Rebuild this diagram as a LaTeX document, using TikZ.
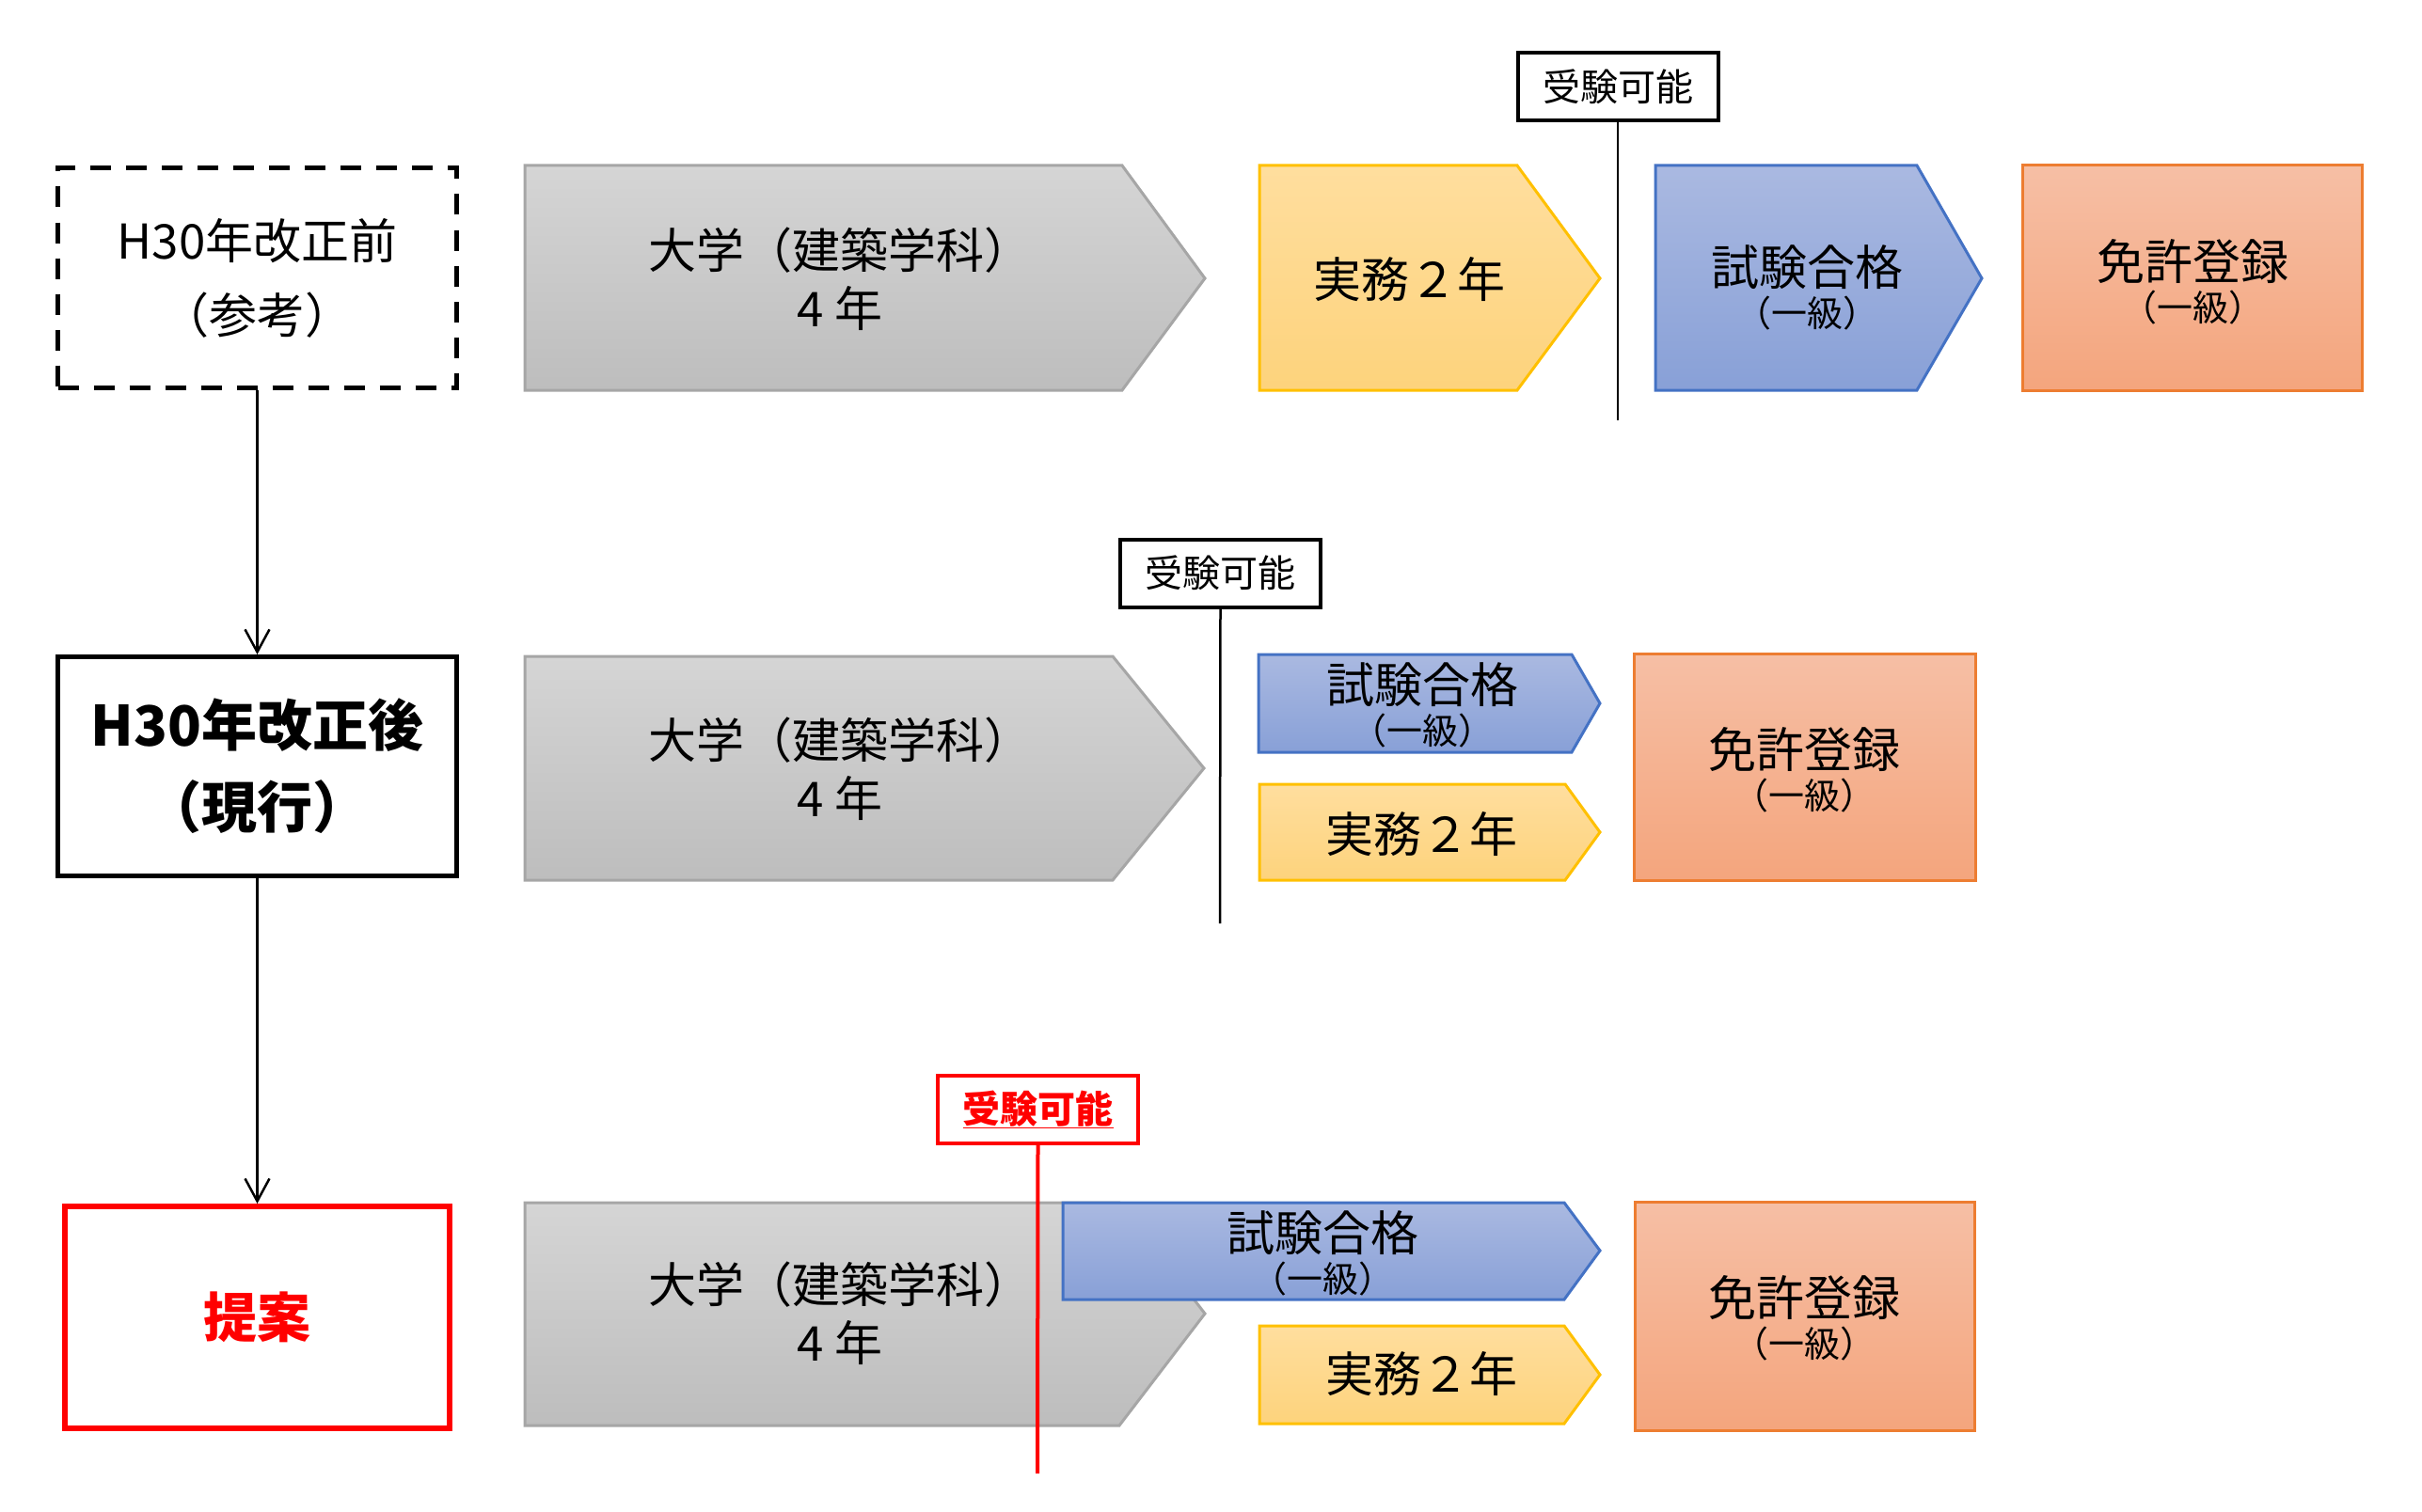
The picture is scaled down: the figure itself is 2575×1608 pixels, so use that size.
\documentclass[tikz,border=0pt]{standalone}
\usepackage{fontspec}
\setmainfont{Noto Sans CJK JP}
\usetikzlibrary{arrows.meta}
\definecolor{grayT}{HTML}{D5D5D5}
\definecolor{grayB}{HTML}{BDBDBD}
\definecolor{grayL}{HTML}{A6A6A6}
\definecolor{yelT}{HTML}{FFDE9E}
\definecolor{yelB}{HTML}{FDD37C}
\definecolor{yelL}{HTML}{FFC000}
\definecolor{bluT}{HTML}{AAB9E1}
\definecolor{bluB}{HTML}{88A0D7}
\definecolor{bluL}{HTML}{4472C4}
\definecolor{orgT}{HTML}{F6BFA5}
\definecolor{orgB}{HTML}{F4A57D}
\definecolor{orgL}{HTML}{ED7D31}
\definecolor{redL}{HTML}{FF0000}
\newcommand\subfnt{\fontsize{38}{40}\selectfont}
\begin{document}
\begin{tikzpicture}[x=1pt,y=-1pt,
  graybox/.style={draw=grayL, line width=3pt, top color=grayT, bottom color=grayB},
  yelbox/.style={draw=yelL, line width=3pt, top color=yelT, bottom color=yelB},
  blubox/.style={draw=bluL, line width=3pt, top color=bluT, bottom color=bluB},
  orgbox/.style={draw=orgL, line width=3pt, top color=orgT, bottom color=orgB},
  txt/.style={align=center, inner sep=0pt},
  big/.style={font=\fontsize{51}{62}\selectfont},
  labbox/.style={draw, line width=4pt, fill=white, minimum width=213pt, minimum height=72pt, inner sep=0pt, font=\fontsize{40}{48}\selectfont},
  leftbox/.style={rectangle, line width=5pt, fill=white, minimum width=424pt, minimum height=234pt, inner sep=0pt, align=center},
  conn/.style={line width=2.5pt, -{Straight Barb[length=24pt,width=26pt,line width=2.5pt]}},
  vline/.style={line width=2.5pt}
]
\useasboundingbox (0,0) rectangle (2575,1608);

% ---------------- left column ----------------
\node[leftbox, draw, dash pattern=on 22pt off 16pt, font=\fontsize{51}{79}\selectfont] (before) at (273.5,295.5) {H30年改正前\\（参考）};
\node[leftbox, draw, minimum height=233pt, font=\bfseries\fontsize{59}{87}\selectfont] (after) at (273.5,815) {H30年改正後\\（現行）};
\node[leftbox, draw=redL, line width=6pt, minimum width=409pt, minimum height=236pt, text=redL, font=\bfseries\fontsize{57}{60}\selectfont] (prop) at (273.5,1401) {提案};
\draw[conn] (before.south) -- (after.north);
\draw[conn] (after.south) -- (prop.north);

% ---------------- row 1 ----------------
\path[graybox] (558,176) -- (1193,176) -- (1281,296) -- (1193,415) -- (558,415) -- cycle;
\node[txt, big] (u1) at (893,297) {大学（建築学科）\\4 年};
\path[yelbox] (1339,176) -- (1613,176) -- (1701,296) -- (1613,415) -- (1339,415) -- cycle;
\node[txt, big] (y1) at (1498,297) {実務２年};
\path[blubox] (1760,176) -- (2038,176) -- (2107,296) -- (2038,415) -- (1760,415) -- cycle;
\node[txt, big] (b1) at (1921,306) {試験合格\\[-18pt]{\subfnt （一級）}};
\path[orgbox] (2150,176) rectangle (2511,415);
\node[txt, big] (o1) at (2331,300) {免許登録\\[-18pt]{\subfnt （一級）}};
\node[labbox] (lab1) at (1720,92) {受験可能};
\coordinate (lab1end) at (1720,447);
\draw[vline] (lab1.south) -- (lab1end);

% ---------------- row 2 ----------------
\path[graybox] (558,698) -- (1183,698) -- (1280,817) -- (1183,936) -- (558,936) -- cycle;
\node[txt, big] (u2) at (893,818) {大学（建築学科）\\4 年};
\path[blubox] (1338,696) -- (1671,696) -- (1701,748) -- (1671,800) -- (1338,800) -- cycle;
\node[txt, big] (b2) at (1512,750) {試験合格\\[-18pt]{\subfnt （一級）}};
\path[yelbox] (1339,834) -- (1664,834) -- (1701,885) -- (1664,936) -- (1339,936) -- cycle;
\node[txt, big] (y2) at (1511,887) {実務２年};
\path[orgbox] (1737,695) rectangle (2100,936);
\node[txt, big] (o2) at (1918,819) {免許登録\\[-18pt]{\subfnt （一級）}};
\node[labbox] (lab2) at (1297.5,609.5) {受験可能};
\coordinate (lab2end) at (1297,982);
\draw[vline] (lab2.south) -- (lab2end);

% ---------------- row 3 ----------------
\path[graybox] (558,1279) -- (1190,1279) -- (1281,1397) -- (1190,1516) -- (558,1516) -- cycle;
\node[txt, big] (u3) at (893,1397) {大学（建築学科）\\4 年};
\path[blubox] (1130,1279) -- (1663,1279) -- (1701,1330) -- (1663,1382) -- (1130,1382) -- cycle;
\node[txt, big] (b3) at (1406,1333) {試験合格\\[-18pt]{\subfnt （一級）}};
\path[yelbox] (1339,1410) -- (1663,1410) -- (1701,1462) -- (1663,1514) -- (1339,1514) -- cycle;
\node[txt, big] (y3) at (1511,1461) {実務２年};
\path[orgbox] (1738,1278) rectangle (2099,1521);
\node[txt, big] (o3) at (1918,1402) {免許登録\\[-18pt]{\subfnt （一級）}};
\node[labbox, draw=redL, text=redL, font=\bfseries\fontsize{40}{48}\selectfont] (lab3) at (1103.5,1180) {\underline{受験可能}};
\coordinate (lab3end) at (1103,1567);
\draw[vline, draw=redL, line width=4pt] (lab3.south) -- (lab3end);
\end{tikzpicture}
\end{document}
